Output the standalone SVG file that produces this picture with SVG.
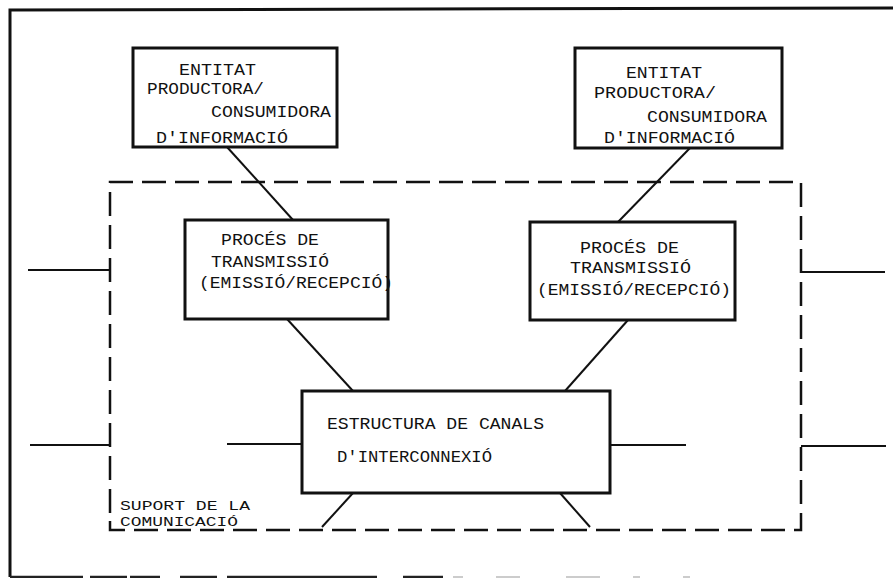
<svg xmlns="http://www.w3.org/2000/svg" width="893" height="578" viewBox="0 0 893 578">
<style>
.box{fill:#fff;stroke:#111;stroke-width:3}
.ln{stroke:#111;stroke-width:2;fill:none}
.dash{stroke:#111;stroke-width:2.5;fill:none;stroke-dasharray:24 9}
.frame{stroke:#111;stroke-width:3;fill:none}
text{font-family:"Liberation Mono","DejaVu Sans Mono",monospace;font-size:17px;fill:#111}
.sm{font-size:13.5px}
</style>
<rect width="893" height="578" fill="#fff"/>
<g id="frame">
<path class="frame" d="M10,577 L10,10 L893,8"/>
<path d="M10,577 H83 M90,577 H127 M130,577 H160 M180,577 H217 M227,577 H377 M403,577 H443" stroke="#222" stroke-width="2.5"/>
<path d="M453,577 H463 M496,577 H520 M566,577 H600 M633,577 H640 M683,577 H690" stroke="#ccc" stroke-width="2"/>
</g>
<g id="support">
<path class="dash" d="M110,513 V182 H801 V530 H110 V513"/>
<text class="sm" x="120" y="510" textLength="130" lengthAdjust="spacingAndGlyphs">SUPORT DE LA</text>
<text class="sm" x="120" y="526" textLength="118" lengthAdjust="spacingAndGlyphs">COMUNICACIÓ</text>
</g>
<g id="connectors">
<line class="ln" x1="227" y1="147" x2="293" y2="220"/>
<line class="ln" x1="690" y1="148" x2="618" y2="222"/>
<line class="ln" x1="287" y1="319" x2="353" y2="391"/>
<line class="ln" x1="628" y1="320" x2="565" y2="391"/>
<line class="ln" x1="353" y1="493" x2="322" y2="527"/>
<line class="ln" x1="560" y1="493" x2="590" y2="527"/>
<line class="ln" x1="28" y1="270" x2="110" y2="270"/>
<line class="ln" x1="801" y1="272" x2="885" y2="272"/>
<line class="ln" x1="30" y1="445" x2="110" y2="445"/>
<line class="ln" x1="227" y1="444" x2="302" y2="444"/>
<line class="ln" x1="610" y1="445" x2="686" y2="445"/>
<line class="ln" x1="801" y1="446" x2="886" y2="446"/>
</g>
<g id="entity-left">
<rect class="box" x="133" y="48" width="204" height="99"/>
<text x="179" y="75" textLength="77" lengthAdjust="spacingAndGlyphs">ENTITAT</text>
<text x="147" y="94" textLength="117" lengthAdjust="spacingAndGlyphs">PRODUCTORA/</text>
<text x="211" y="117" textLength="120" lengthAdjust="spacingAndGlyphs">CONSUMIDORA</text>
<text x="156" y="143" textLength="132" lengthAdjust="spacingAndGlyphs">D'INFORMACIÓ</text>
</g>
<g id="entity-right">
<rect class="box" x="575" y="48" width="207" height="100"/>
<text x="626" y="78" textLength="76" lengthAdjust="spacingAndGlyphs">ENTITAT</text>
<text x="594" y="98" textLength="122" lengthAdjust="spacingAndGlyphs">PRODUCTORA/</text>
<text x="647" y="122" textLength="120" lengthAdjust="spacingAndGlyphs">CONSUMIDORA</text>
<text x="604" y="143" textLength="131" lengthAdjust="spacingAndGlyphs">D'INFORMACIÓ</text>
</g>
<g id="process-left">
<rect class="box" x="185" y="220" width="203" height="99"/>
<text x="221" y="245" textLength="98" lengthAdjust="spacingAndGlyphs">PROCÉS DE</text>
<text x="211" y="267" textLength="118" lengthAdjust="spacingAndGlyphs">TRANSMISSIÓ</text>
<text x="199" y="288" textLength="194" lengthAdjust="spacingAndGlyphs">(EMISSIÓ/RECEPCIÓ)</text>
</g>
<g id="process-right">
<rect class="box" x="530" y="222" width="205" height="98"/>
<text x="580" y="253" textLength="99" lengthAdjust="spacingAndGlyphs">PROCÉS DE</text>
<text x="570" y="273" textLength="121" lengthAdjust="spacingAndGlyphs">TRANSMISSIÓ</text>
<text x="537" y="295" textLength="194" lengthAdjust="spacingAndGlyphs">(EMISSIÓ/RECEPCIÓ)</text>
</g>
<g id="channels">
<rect class="box" x="302" y="391" width="308" height="102"/>
<text x="327" y="429" textLength="217" lengthAdjust="spacingAndGlyphs">ESTRUCTURA DE CANALS</text>
<text x="337" y="462" textLength="155" lengthAdjust="spacingAndGlyphs">D'INTERCONNEXIÓ</text>
</g>
</svg>
